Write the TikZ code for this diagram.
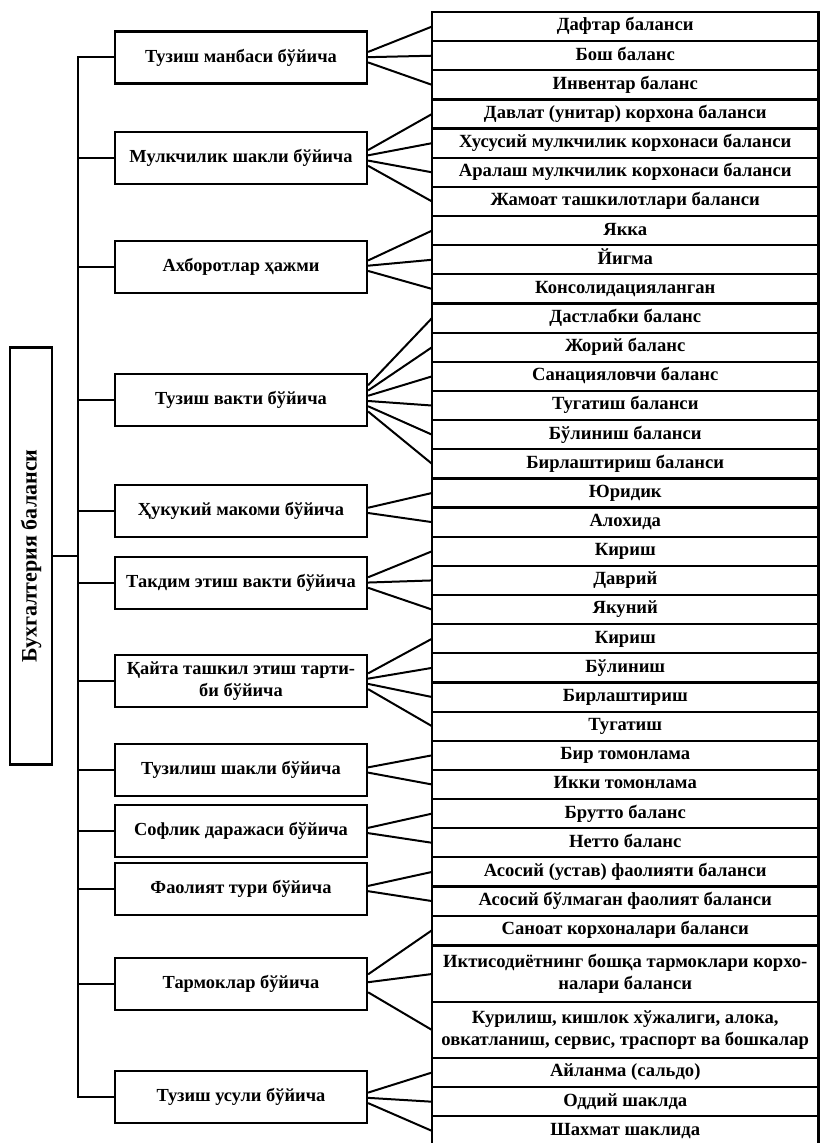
\documentclass[tikz,border=0pt]{standalone}
\usepackage{fontspec}
\setmainfont{Liberation Serif}
\usetikzlibrary{calc}

\tikzset{
  rootbox/.style={draw, line width=1.1pt, rotate=90, minimum width=208.5pt,
    minimum height=21pt, inner sep=0pt, font=\fontsize{11}{13}\selectfont\bfseries},
  catbox/.style={draw, line width=1.1pt, minimum width=126pt, minimum height=26pt,
    inner sep=0pt, align=center, font=\fontsize{9.2}{11}\selectfont\bfseries},
  itembox/.style={draw, line width=1.1pt, minimum width=193.25pt, minimum height=14.575pt,
    inner sep=0pt, outer sep=0pt, text height=6.6pt, text depth=2.2pt, align=center,
    font=\fontsize{9.3}{11}\selectfont\bfseries},
  link/.style={line width=1pt},
}

\begin{document}
\begin{tikzpicture}[x=0.5pt, y=-0.5pt]
   \useasboundingbox (0,0) rectangle (820,1143);

   % root
   \node[rootbox] (root) at (31,556) {Бухгалтерия баланси};

   % categories
   \node[catbox] (g1) at (241,57.5) {Тузиш манбаси бўйича};
   \node[catbox] (g2) at (241,158) {Мулкчилик шакли бўйича};
   \node[catbox] (g3) at (241,267) {Ахборотлар ҳажми};
   \node[catbox] (g4) at (241,400) {Тузиш вакти бўйича};
   \node[catbox] (g5) at (241,511) {Ҳукукий макоми бўйича};
   \node[catbox] (g6) at (241,583) {Такдим этиш вакти бўйича};
   \node[catbox] (g7) at (241,681) {Қайта ташкил этиш тарти-\\би бўйича};
   \node[catbox] (g8) at (241,770) {Тузилиш шакли бўйича};
   \node[catbox] (g9) at (241,831) {Софлик даражаси бўйича};
   \node[catbox] (g10) at (241,889) {Фаолият тури бўйича};
   \node[catbox] (g11) at (241,984) {Тармоклар бўйича};
   \node[catbox] (g12) at (241,1097) {Тузиш усули бўйича};

   % items
   \foreach \txt [count=\i] in {Дафтар баланси, Бош баланс, Инвентар баланс,
       Давлат (унитар) корхона баланси, Хусусий мулкчилик корхонаси баланси,
       Аралаш мулкчилик корхонаси баланси, Жамоат ташкилотлари баланси,
       Якка, Йигма, Консолидацияланган,
       Дастлабки баланс, Жорий баланс, Санацияловчи баланс, Тугатиш баланси,
       Бўлиниш баланси, Бирлаштириш баланси,
       Юридик, Алохида,
       Кириш, Даврий, Якуний,
       Кириш, Бўлиниш, Бирлаштириш, Тугатиш,
       Бир томонлама, Икки томонлама,
       Брутто баланс, Нетто баланс,
       Асосий (устав) фаолияти баланси, Асосий бўлмаган фаолият баланси,
       Саноат корхоналари баланси}
     \node[itembox] (r\i) at (625.25,{12+(\i-0.5)*29.15}) {\txt};
   \node[itembox, minimum height=28pt, text height=, text depth=] (r33) at (625.25,974)
     {Иктисодиётнинг бошқа тармоклари корхо-\\налари баланси};
   \node[itembox, minimum height=28pt, text height=, text depth=] (r34) at (625.25,1030)
     {Курилиш, кишлок хўжалиги, алока,\\овкатланиш, сервис, траспорт ва бошкалар};
   \node[itembox] (r35) at (625.25,1072.5) {Айланма (сальдо)};
   \node[itembox] (r36) at (625.25,1101.7) {Оддий шаклда};
   \node[itembox] (r37) at (625.25,1130.9) {Шахмат шаклида};

   % trunk
   \coordinate (tr) at (78,0);
   \draw[link] (root.south) -- (root.south -| tr);
   \draw[link] (g1.west) -- (g1.west -| tr) -- (g12.west -| tr) -- (g12.west);
   \foreach \g in {2,...,11}
     \draw[link] (g\g.west) -- (g\g.west -| tr);

   % fans
   \foreach \g/\a/\b in {1/1/3, 2/4/7, 3/8/10, 4/11/16, 5/17/18, 6/19/21,
       7/22/25, 8/26/27, 9/28/29, 10/30/31, 11/32/34, 12/35/37}
     \foreach \r in {\a,...,\b} {
       \coordinate (t) at ($(g\g.east)!0.18!(r\r.west)$);
       \draw[link] (g\g.east |- t) -- (r\r.west);
     }
\end{tikzpicture}
\end{document}
